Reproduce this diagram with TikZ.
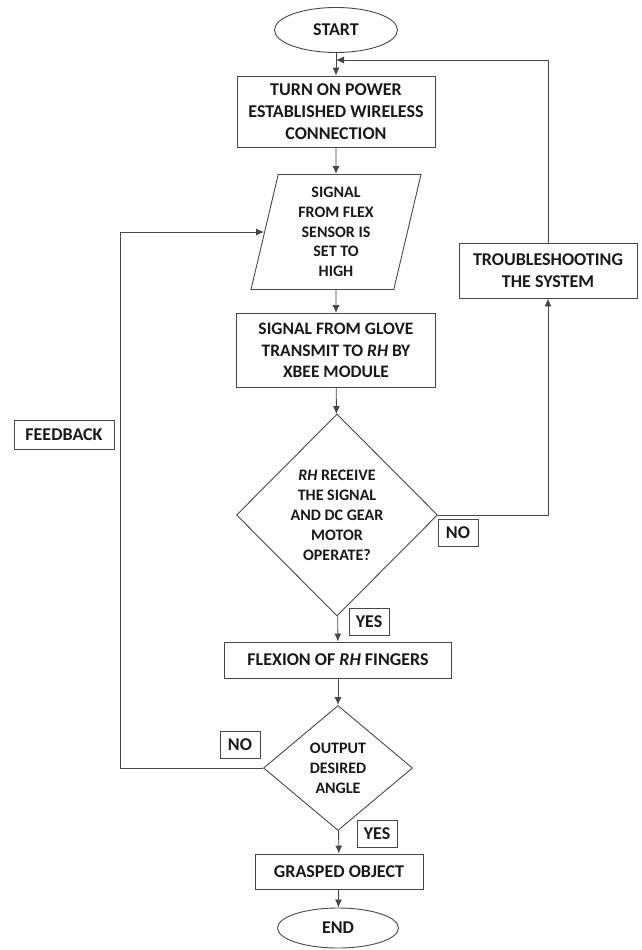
\documentclass[tikz,border=0pt]{standalone}
\usepackage{fontspec}
\setmainfont{Carlito}
\usetikzlibrary{shapes.geometric,arrows.meta}
\begin{document}
\begin{tikzpicture}[x=1pt,y=-1pt,
  every node/.style={font=\bfseries\fontsize{18}{22}\selectfont,text=black!90,align=center,inner sep=0pt},
  box/.style={draw,rectangle},
  term/.style={draw,ellipse},
  iobox/.style={draw,trapezium,trapezium left angle=73,trapezium right angle=107,trapezium stretches body,font=\bfseries\fontsize{16}{19.6}\selectfont},
  decide/.style={draw,diamond,font=\bfseries\fontsize{16}{20}\selectfont},
  tag/.style={draw,rectangle,minimum width=40,minimum height=27},
  flow/.style={-{Latex[length=8pt,width=7pt]}}]
\useasboundingbox (0,0) rectangle (642,950);
\tikzset{every path/.style={draw=black!72,line width=0.9pt}}

\node[term,minimum width=123,minimum height=45] (start) at (336,30) {START};

\node[box,minimum width=198,minimum height=71] (power) at (336,111.5) {TURN ON POWER\\ESTABLISHED WIRELESS\\CONNECTION};

\node[iobox,minimum width=170,minimum height=115] (flex) at (336,232) {SIGNAL\\FROM FLEX\\SENSOR IS\\SET TO\\HIGH};

\node[box,minimum width=199,minimum height=74,font=\bfseries\fontsize{17.5}{21.5}\selectfont] (glove) at (336,350.5) {SIGNAL FROM GLOVE\\TRANSMIT TO \textit{RH} BY\\XBEE MODULE};

\node[decide,minimum width=201,minimum height=202] (recv) at (337,515) {\textit{RH} RECEIVE\\THE SIGNAL\\AND DC GEAR\\MOTOR\\OPERATE?};

\node[box,minimum width=178,minimum height=55] (trouble) at (548,270.5) {TROUBLESHOOTING\\THE SYSTEM};

\node[box,minimum width=227,minimum height=36] (flexion) at (338,660) {FLEXION OF \textit{RH} FINGERS};

\node[decide,minimum width=149,minimum height=125] (angle) at (338,768) {OUTPUT\\DESIRED\\ANGLE};

\node[box,minimum width=168,minimum height=35] (grasp) at (339,871.5) {GRASPED OBJECT};

\node[term,minimum width=121,minimum height=40] (end) at (338,928) {END};

\node[box,minimum width=100,minimum height=29] (feedback) at (64,435) {FEEDBACK};
\node[tag] (no1) at (458,533) {NO};
\node[tag] (yes1) at (369,621.5) {YES};
\node[tag] (no2) at (240,745) {NO};
\node[tag] (yes2) at (377,833.5) {YES};

\coordinate (join) at (336,60);

\draw[flow] (start) -- (power);
\draw[flow] (power) -- (flex);
\draw[flow] (flex) -- (glove);
\draw[flow] (glove) -- (recv);
\draw[flow] (recv) -- (flexion);
\draw[flow] (flexion) -- (angle);
\draw[flow] (angle) -- (grasp);
\draw[flow] (grasp) -- (end);
\draw[flow] (recv.east) -| (trouble.south);
\draw[flow] (trouble.north) |- (join);
\draw[flow] (angle.west) -- ++(-143,0) |- (flex.west);
\end{tikzpicture}
\end{document}
